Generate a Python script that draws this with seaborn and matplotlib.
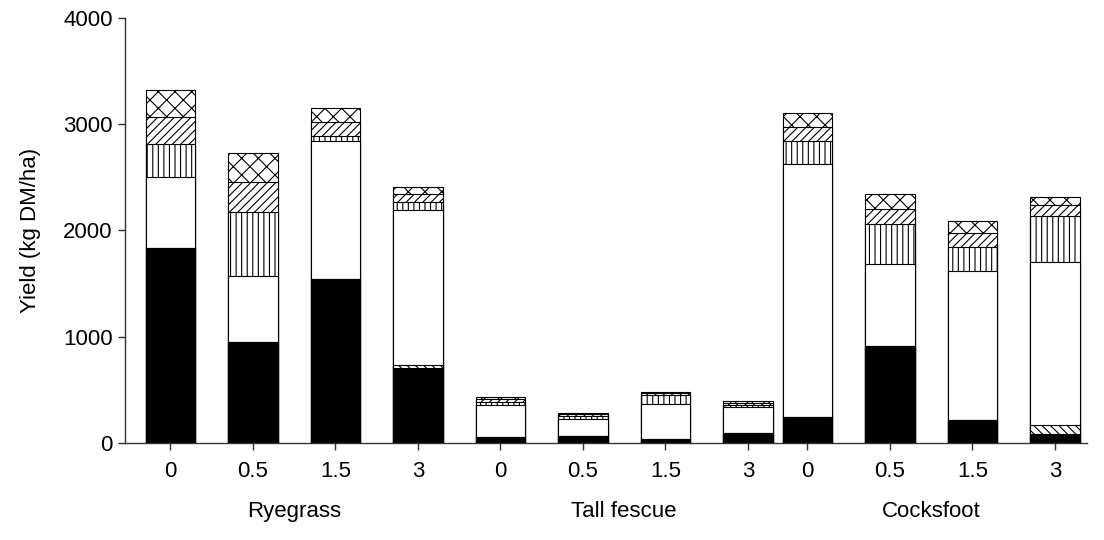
import numpy as np
import pandas as pd
import matplotlib
matplotlib.use("Agg")
import matplotlib.pyplot as plt
import seaborn as sns

# ==========================================
# DATOS (kg DM/ha)
# ==========================================

especies = ["Ryegrass", "Tall fescue", "Cocksfoot"]
tasas = ["0", "0.5", "1.5", "3"]

# componentes apilados, de abajo hacia arriba
negro = [1838, 954, 1544, 703, 60, 69, 38, 91, 248, 916, 216, 85]
diag_inv = [0, 0, 0, 31, 0, 0, 0, 0, 0, 0, 0, 85]
blanco = [668, 618, 1298, 1459, 297, 156, 326, 244, 2378, 766, 1403, 1534]
vertical = [305, 599, 51, 78, 28, 25, 88, 25, 213, 376, 226, 432]
diagonal = [254, 282, 132, 72, 30, 20, 16, 18, 131, 141, 131, 104]
cruzado = [257, 276, 131, 70, 21, 15, 9, 14, 132, 148, 113, 75]

# ==========================================
# LAYOUT
# ==========================================

# el tercer grupo arranca pegado al segundo, como en el original
inicio_grupo = [0, 4, 7.72]
posiciones = [g + i for g in inicio_grupo for i in range(len(tasas))]
ancho_barra = 0.6

capas = [
    ("negro", negro, "black", None),
    ("diag_inv", diag_inv, "white", "\\\\\\\\"),
    ("blanco", blanco, "white", None),
    ("vertical", vertical, "white", "|||"),
    ("diagonal", diagonal, "white", "////"),
    ("cruzado", cruzado, "white", "xx"),
]

df = pd.DataFrame({"pos": posiciones})
acumulado = np.zeros(len(posiciones))
for nombre, valores, _, _ in capas:
    acumulado = acumulado + np.array(valores)
    df[nombre] = acumulado

# ==========================================
# GRAFICO
# ==========================================

sns.set_style("ticks")
plt.rcParams["font.family"] = ["Liberation Sans", "DejaVu Sans"]
plt.rcParams["hatch.linewidth"] = 0.8
plt.rcParams["hatch.color"] = "black"
plt.rcParams["text.color"] = "black"
plt.rcParams["xtick.labelcolor"] = "black"
plt.rcParams["ytick.labelcolor"] = "black"
plt.rcParams["axes.labelcolor"] = "black"

fig = plt.figure(figsize=(11.04, 5.4), dpi=100)
ax = fig.add_axes([0.1133, 0.1796, 0.8713, 0.7871])

ancho_nativo = min(np.diff(sorted(posiciones)))

# se dibuja de arriba hacia abajo, cada capa tapa la parte baja de la anterior
for nombre, _, color, hatch in reversed(capas):
    sns.barplot(
        data=df,
        x="pos",
        y=nombre,
        native_scale=True,
        width=ancho_barra / ancho_nativo,
        color=color,
        saturation=1,
        hatch=hatch,
        edgecolor="black",
        linewidth=0.8,
        errorbar=None,
        ax=ax
    )

ax.set_xlim(posiciones[0] - 0.55, posiciones[-1] + 0.39)
ax.set_ylim(0, 4000)
ax.set_yticks([0, 1000, 2000, 3000, 4000])
ax.set_xticks(posiciones)
ax.set_xticklabels(tasas * len(especies))

ax.set_xlabel("")
ax.set_ylabel("Yield (kg DM/ha)", fontsize=16, labelpad=16)

ax.tick_params(axis="both", labelsize=16, length=5, width=1, color="#333333")
ax.tick_params(axis="x", pad=8)
ax.tick_params(axis="y", pad=4)

for lado in ["top", "right"]:
    ax.spines[lado].set_visible(False)
for lado in ["left", "bottom"]:
    ax.spines[lado].set_color("#333333")
    ax.spines[lado].set_linewidth(1)

for k, especie in enumerate(especies):
    centro = np.mean(posiciones[k * 4:(k + 1) * 4])
    ax.text(
        centro,
        -0.16,
        especie,
        transform=ax.get_xaxis_transform(),
        ha="center",
        va="center",
        fontsize=16
    )

fig.savefig("out.png", dpi=100)
plt.close()
